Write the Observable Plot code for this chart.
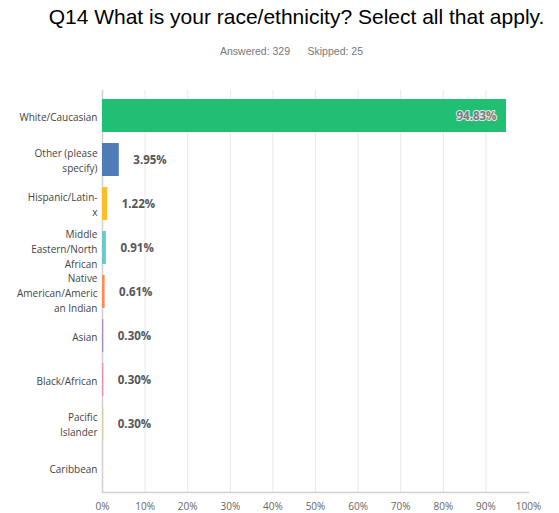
<!DOCTYPE html>
<html>
<head>
<meta charset="utf-8">
<script src="https://cdn.jsdelivr.net/npm/d3@7"></script>
<script src="https://cdn.jsdelivr.net/npm/@observablehq/plot@0.6"></script>
<style>
  body { margin: 0; background: #fff; width: 559px; height: 513px; overflow: hidden; font-family: "Open Sans", sans-serif; }
  #title { position: absolute; top: 5px; left: 0; width: 559px; padding-left: 34px; box-sizing: border-box; text-align: center; font-family: "Liberation Sans", Arial, sans-serif; font-size: 21px; color: #000; white-space: nowrap; }
  #sub { position: absolute; top: 45px; left: 0; width: 559px; padding-left: 24px; box-sizing: border-box; text-align: center; font-family: "Liberation Sans", Arial, sans-serif; font-size: 10.5px; color: #777; white-space: pre; }
  #chart { position: absolute; top: 70px; left: 0; }
</style>
</head>
<body>
<div id="title">Q14 What is your race/ethnicity? Select all that apply.</div>
<div id="sub">Answered: 329      Skipped: 25</div>
<div id="chart"></div>
<script>
const categories = ["White/Caucasian", "Other (please specify)", "Hispanic/Latin-x", "Middle Eastern/North African", "Native American/American Indian", "Asian", "Black/African", "Pacific Islander", "Caribbean"];
const categoryLabels = ["White/Caucasian", "Other (please\nspecify)", "Hispanic/Latin-\nx", "Middle\nEastern/North\nAfrican", "Native\nAmerican/Americ\nan Indian", "Asian", "Black/African", "Pacific\nIslander", "Caribbean"];
const values = [94.83, 3.95, 1.22, 0.91, 0.61, 0.30, 0.30, 0.30, 0.00];
const valueLabels = ["94.83%", "3.95%", "1.22%", "0.91%", "0.61%", "0.30%", "0.30%", "0.30%", ""];
const xTicks = [0, 10, 20, 30, 40, 50, 60, 70, 80, 90, 100];
const palette = ["#21bf73", "#507cb6", "#f9be28", "#6bc8cd", "#ff8b4f", "#a58cbd", "#e88db2", "#dccaa0", "#c0c0c0"];

const data = categories.map((c, i) => ({ cat: c, label: categoryLabels[i], value: values[i], text: valueLabels[i] }));
const inside = data.filter(d => d.value > 50);
const outside = data.filter(d => d.value <= 50 && d.text);

const chart = Plot.plot({
  width: 559,
  height: 443,
  marginLeft: 102,
  marginRight: 31,
  marginTop: 20,
  marginBottom: 21,
  style: { fontFamily: "Open Sans, sans-serif", background: "#fff" },
  x: { domain: [0, 100], ticks: xTicks, tickFormat: d => d + "%", axis: null, label: null },
  y: { domain: categories, paddingInner: 0.26, paddingOuter: 0.13, axis: null },
  color: { domain: categories, range: palette },
  marks: [
    Plot.gridX(xTicks.slice(1, -1), { stroke: "#e8e8e8", strokeOpacity: 1, strokeWidth: 1 }),
    Plot.ruleX([0], { stroke: "#d0d0d0", strokeWidth: 1.5 }),
    Plot.frame({ anchor: "bottom", stroke: "#d0d0d0", strokeWidth: 1.5 }),
    Plot.axisX({ ticks: xTicks, tickFormat: d => d + "%", tickSize: 0, tickPadding: 10, fontSize: 10, color: "#666", label: null }),
    Plot.barX(data, { y: "cat", x: "value", fill: "cat" }),
    Plot.text(data, { y: "cat", x: 0, text: "label", textAnchor: "end", dx: -5, fontSize: 10, fill: "#444", lineHeight: 1.5 }),
    Plot.text(outside, { y: "cat", x: "value", text: "text", textAnchor: "start", dx: 14, fontSize: 11.5, fontWeight: "bold", fill: "#555" }),
    Plot.text(inside, { y: "cat", x: "value", text: "text", textAnchor: "end", dx: -10, fontSize: 11.5, fontWeight: "bold", fill: "#7a7a7a", stroke: "#e8e8e8", strokeWidth: 2, paintOrder: "stroke" })
  ]
});
document.getElementById("chart").appendChild(chart);
</script>
</body>
</html>
